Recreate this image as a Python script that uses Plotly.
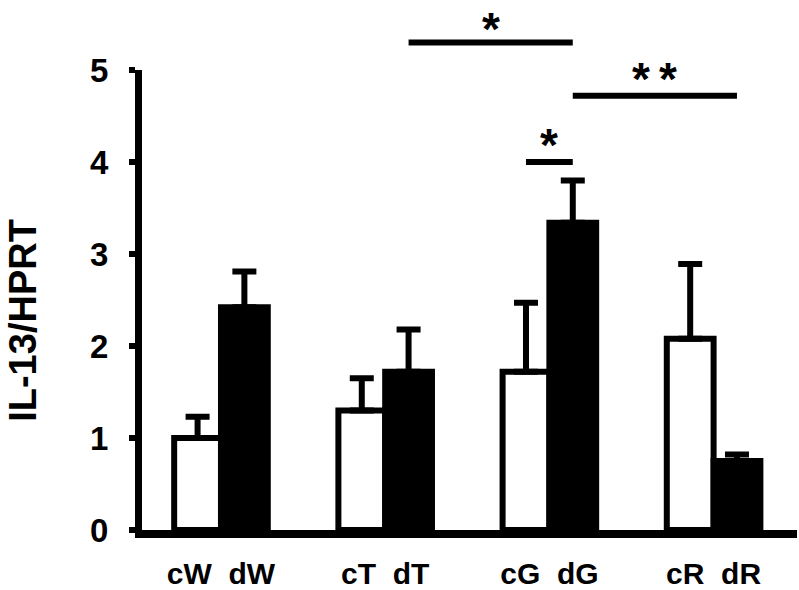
import plotly.graph_objects as go

# ---- data ----
groups = ["cW  dW", "cT  dT", "cG  dG", "cR  dR"]
control_vals = [1.0, 1.30, 1.72, 2.08]
control_err = [0.23, 0.35, 0.75, 0.81]
treated_vals = [2.42, 1.72, 3.34, 0.75]
treated_err = [0.39, 0.46, 0.46, 0.07]
y_ticks = [0, 1, 2, 3, 4, 5]

# significance brackets: from (group, bar) to (group, bar), height, label
sig_from = [(1, 1), (2, 1), (2, 0)]
sig_to = [(2, 1), (3, 1), (2, 1)]
sig_y = [5.30, 4.72, 4.00]
sig_label_y = [5.52, 4.90, 4.19]
sig_labels = ["*", "*\u2009*", "*"]

FONT = "Liberation Sans, Arial, Helvetica, sans-serif"
BARGAP = 0.43
half = (1 - BARGAP) / 4  # offset of each bar centre from group centre
Y_MAX = 5.0
PLOT_H = 460  # plot area height in px
TOP_M = 70    # top margin in px
STAR_SIZE = 46

fig = go.Figure()
fig.add_trace(go.Bar(
    x=groups, y=control_vals,
    marker=dict(color="white", line=dict(color="black", width=6)),
    error_y=dict(type="data", array=control_err, arrayminus=[0] * len(control_err),
                 symmetric=False, color="black", thickness=6, width=12),
    showlegend=False,
))
fig.add_trace(go.Bar(
    x=groups, y=treated_vals,
    marker=dict(color="black", line=dict(color="black", width=6)),
    error_y=dict(type="data", array=treated_err, arrayminus=[0] * len(treated_err),
                 symmetric=False, color="black", thickness=6, width=12),
    showlegend=False,
))


def bar_x(gb):
    g, b = gb
    return g + (half if b == 1 else -half)


paper_top = 1 + TOP_M / PLOT_H  # figure top edge in paper units
for f, t, yv, ly, lab in zip(sig_from, sig_to, sig_y, sig_label_y, sig_labels):
    x0, x1 = bar_x(f), bar_x(t)
    fig.add_shape(type="line", xref="x", yref="paper", x0=x0, x1=x1,
                  y0=yv / Y_MAX, y1=yv / Y_MAX, line=dict(color="black", width=6))
    py = ly / Y_MAX
    # keep the text box inside the figure: anchor at the top when it would overflow
    half_box = (STAR_SIZE * 0.62) / PLOT_H
    if py + half_box > paper_top:
        ypos, yanc = paper_top - 0.002, "top"
    else:
        ypos, yanc = py, "middle"
    fig.add_annotation(x=(x0 + x1) / 2, y=ypos, xref="x", yref="paper",
                       text=lab, showarrow=False, xanchor="center", yanchor=yanc,
                       font=dict(family=FONT, size=STAR_SIZE, color="black", weight="bold"))

fig.add_annotation(x=-0.182, y=0.4565, xref="paper", yref="paper",
                   text="IL-13/HPRT", textangle=-90, showarrow=False,
                   xanchor="center", yanchor="middle",
                   font=dict(family=FONT, size=38, color="black", weight="bold"))

fig.update_layout(
    width=799, height=590,
    margin=dict(l=142, r=2, t=TOP_M, b=60, autoexpand=False),
    paper_bgcolor="white", plot_bgcolor="white",
    barmode="group", bargap=BARGAP, bargroupgap=0,
    font=dict(family=FONT, color="black"),
    xaxis=dict(range=[-0.481, 3.508], showline=True, linecolor="black", linewidth=8,
               ticks="", showgrid=False, zeroline=False, automargin=False,
               ticklabelstandoff=10,
               tickfont=dict(family=FONT, size=30, color="black", weight="bold")),
    yaxis=dict(range=[0, Y_MAX], tickvals=y_ticks, showline=True, linecolor="black",
               linewidth=7, ticks="outside", ticklen=6, tickwidth=6, tickcolor="black",
               showgrid=False, zeroline=False, automargin=False,
               ticklabelstandoff=14,
               tickfont=dict(family=FONT, size=33, color="black", weight="bold")),
)

fig.write_html("out.html", config={"displayModeBar": False},
               post_script="document.body.style.margin='0';")
